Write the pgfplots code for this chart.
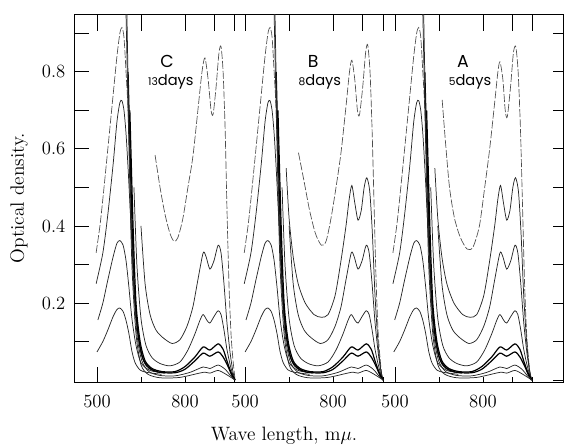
\documentclass[border=0pt]{standalone}
\usepackage{fontspec}
\usepackage{pgfplots}
\usepackage{pgfplotstable}
\pgfplotsset{compat=1.18}
\newfontfamily\lettering{Poppins}

% left-hand (dilute) curves, wavelength in m-mu within a panel
\pgfplotstableread{
x y
497 0.33
510 0.40
520 0.47
537 0.60
555 0.74
568 0.84
578 0.90
585 0.915
592 0.89
599 0.80
606 0.70
616 0.50
626 0.30
636 0.15
650 0.07
670 0.035
700 0.02
}\Lone
\pgfplotstableread{
x y
497 0.25
520 0.33
537 0.43
555 0.56
568 0.67
578 0.72
585 0.725
592 0.70
599 0.64
606 0.55
616 0.40
626 0.25
636 0.14
650 0.07
670 0.035
710 0.02
}\Ltwo
\pgfplotstableread{
x y
503 0.156
520 0.20
537 0.26
555 0.32
568 0.355
578 0.362
589 0.35
599 0.31
609 0.24
619 0.16
633 0.09
650 0.045
681 0.025
732 0.018
}\Lthree
\pgfplotstableread{
x y
500 0.073
520 0.10
537 0.13
555 0.165
568 0.183
578 0.187
589 0.178
599 0.155
609 0.12
619 0.075
630 0.045
647 0.026
670 0.02
720 0.015
}\Lfour
% right-hand (concentrated) curves
\pgfplotstableread{
x y
698 0.584
715 0.50
732 0.43
749 0.38
763 0.36
776 0.37
793 0.42
810 0.50
827 0.58
844 0.70
858 0.80
868 0.836
879 0.78
889 0.70
896 0.69
906 0.76
916 0.85
923 0.865
930 0.80
937 0.65
943 0.45
950 0.25
957 0.12
964 0.05
971 0.0
}\RtopC
\pgfplotstableread{
x y
682 0.59
700 0.52
720 0.44
740 0.38
760 0.35
776 0.36
793 0.42
810 0.50
827 0.59
844 0.71
856 0.80
864 0.83
874 0.78
883 0.70
890 0.688
901 0.76
911 0.85
918 0.87
926 0.80
933 0.65
940 0.45
947 0.25
954 0.12
961 0.05
968 0.0
}\RtopB
\pgfplotstableread{
x y
665 0.727
676 0.62
690 0.50
707 0.42
727 0.37
750 0.34
770 0.345
792 0.40
810 0.50
827 0.60
844 0.72
855 0.80
862 0.826
872 0.78
880 0.70
887 0.683
898 0.76
908 0.85
916 0.865
924 0.80
932 0.65
939 0.45
946 0.25
953 0.12
960 0.05
967 0.0
}\RtopA
\pgfplotstableread{
x y
640 0.55
650 0.42
664 0.32
681 0.25
705 0.20
735 0.17
760 0.163
783 0.17
807 0.22
827 0.31
844 0.40
855 0.47
864 0.505
874 0.46
885 0.415
896 0.44
906 0.50
915 0.525
925 0.49
934 0.38
943 0.22
953 0.10
962 0.03
970 0.0
}\Rtwo
\pgfplotstableread{
x y
650 0.40
664 0.25
681 0.17
701 0.13
725 0.11
756 0.095
783 0.105
807 0.14
827 0.19
844 0.26
862 0.33
872 0.32
885 0.288
899 0.31
913 0.35
923 0.33
933 0.25
943 0.15
954 0.07
964 0.02
971 0.0
}\Rthree
\pgfplotstableread{
x y
626 0.50
636 0.30
650 0.16
667 0.09
688 0.058
715 0.043
749 0.037
783 0.047
810 0.078
834 0.12
851 0.155
862 0.17
875 0.155
885 0.148
899 0.165
913 0.18
923 0.17
933 0.13
943 0.08
954 0.04
964 0.012
971 0.0
}\Rfour
\pgfplotstableread{
x y
612 0.70
623 0.40
633 0.20
647 0.10
664 0.05
688 0.03
722 0.022
766 0.022
800 0.035
834 0.06
862 0.086
885 0.078
913 0.094
930 0.08
943 0.05
957 0.02
971 0.0
}\Rfive
\pgfplotstableread{
x y
606 0.80
616 0.50
626 0.25
640 0.12
657 0.055
681 0.03
715 0.02
766 0.019
800 0.028
834 0.05
862 0.07
885 0.062
913 0.073
930 0.06
947 0.035
960 0.012
971 0.0
}\Rsix
\pgfplotstableread{
x y
602 0.95
612 0.55
623 0.28
636 0.12
653 0.05
677 0.022
715 0.012
766 0.011
817 0.02
862 0.034
885 0.03
913 0.039
937 0.028
957 0.01
971 0.0
}\Rseven
\pgfplotstableread{
x y
599 0.95
609 0.60
619 0.30
633 0.12
650 0.04
674 0.015
715 0.006
783 0.007
862 0.02
885 0.018
913 0.025
940 0.015
971 0.0
}\Reight

\pgfplotsset{
  common/.style={at={(0,0)}, anchor=south west, scale only axis,
    width=366.75pt, height=276pt,
    xmin=421.6, xmax=2089, ymin=-0.005, ymax=0.95,
    axis line style={black, line width=0.7pt}, tick align=inside,
    every tick/.style={black, line width=0.6pt}},
  crv/.style={black!85, line width=0.55pt, smooth, tension=0.45, no markers},
  faint/.style={black!70, line width=0.5pt, smooth, tension=0.45, no markers, dash pattern=on 6pt off 1.5pt},
  thick crv/.style={black, line width=0.9pt, smooth, tension=0.45, no markers},
}

\begin{document}
\begin{tikzpicture}
\useasboundingbox (-55.5pt,-46.5pt) rectangle (369.75pt,286.5pt);
% main axis with data, bottom and left ticks
\begin{axis}[common,
  xtick pos=left, ytick pos=left,
  xtick={500,1005,1516}, xticklabels={500,500,500},
  extra x ticks={650,800,900,970,1155,1305,1405,1475,1666,1816,1916,1986},
  extra x tick labels={,800,,,,800,,,,800,,},
  extra x tick style={major tick length=4pt},
  major tick length=11pt, minor tick length=11pt,
  ytick={0.2,0.4,0.6,0.8}, minor ytick={0.1,0.3,0.5,0.7,0.9},
  yticklabels={0.2,0.4,0.6,0.8},
  xticklabel style={font=\fontsize{14}{16}\selectfont, yshift=-6pt},
  yticklabel style={font=\fontsize{14}{16}\selectfont, xshift=-3pt},
  xlabel={Wave length, m$\mu$.},
  ylabel={Optical density.},
  every axis x label/.style={at={(axis description cs:0.4294,-0.147)}, anchor=center, font=\fontsize{14.5}{16}\selectfont},
  every axis y label/.style={at={(axis description cs:-0.1125,0.5)}, rotate=90, anchor=center, font=\fontsize{14.5}{16}\selectfont},
  clip=true,
]
% ---------- panel C (13 days), offset 0
\addplot[faint] table[x expr=\thisrowno{0}, y index=1] {\Lone};
\addplot[crv] table[x expr=\thisrowno{0}, y index=1] {\Ltwo};
\addplot[crv] table[x expr=\thisrowno{0}, y index=1] {\Lthree};
\addplot[crv] table[x expr=\thisrowno{0}, y index=1] {\Lfour};
\addplot[faint] table[x expr=\thisrowno{0}, y index=1] {\RtopC};
\addplot[crv] table[x expr=\thisrowno{0}, y index=1] {\Rthree};
\addplot[crv] table[x expr=\thisrowno{0}, y index=1] {\Rfour};
\addplot[thick crv] table[x expr=\thisrowno{0}, y index=1] {\Rfive};
\addplot[thick crv] table[x expr=\thisrowno{0}, y index=1] {\Rsix};
\addplot[crv] table[x expr=\thisrowno{0}, y index=1] {\Rseven};
\addplot[crv] table[x expr=\thisrowno{0}, y index=1] {\Reight};
% ---------- panel B (8 days), offset 505
\addplot[faint] table[x expr=\thisrowno{0}+505, y index=1] {\Lone};
\addplot[crv] table[x expr=\thisrowno{0}+505, y index=1] {\Ltwo};
\addplot[crv] table[x expr=\thisrowno{0}+505, y index=1] {\Lthree};
\addplot[crv] table[x expr=\thisrowno{0}+505, y index=1] {\Lfour};
\addplot[faint] table[x expr=\thisrowno{0}+505, y index=1] {\RtopB};
\addplot[crv] table[x expr=\thisrowno{0}+505, y index=1] {\Rtwo};
\addplot[crv] table[x expr=\thisrowno{0}+505, y index=1] {\Rthree};
\addplot[crv] table[x expr=\thisrowno{0}+505, y index=1] {\Rfour};
\addplot[thick crv] table[x expr=\thisrowno{0}+505, y index=1] {\Rfive};
\addplot[thick crv] table[x expr=\thisrowno{0}+505, y index=1] {\Rsix};
\addplot[crv] table[x expr=\thisrowno{0}+505, y index=1] {\Rseven};
\addplot[crv] table[x expr=\thisrowno{0}+505, y index=1] {\Reight};
% ---------- panel A (5 days), offset 1012
\addplot[faint] table[x expr=\thisrowno{0}+1012, y index=1] {\Lone};
\addplot[crv] table[x expr=\thisrowno{0}+1012, y index=1] {\Ltwo};
\addplot[crv] table[x expr=\thisrowno{0}+1012, y index=1] {\Lthree};
\addplot[crv] table[x expr=\thisrowno{0}+1012, y index=1] {\Lfour};
\addplot[faint] table[x expr=\thisrowno{0}+1012, y index=1] {\RtopA};
\addplot[crv] table[x expr=\thisrowno{0}+1012, y index=1] {\Rtwo};
\addplot[crv] table[x expr=\thisrowno{0}+1012, y index=1] {\Rthree};
\addplot[crv] table[x expr=\thisrowno{0}+1012, y index=1] {\Rfour};
\addplot[thick crv] table[x expr=\thisrowno{0}+1012, y index=1] {\Rfive};
\addplot[thick crv] table[x expr=\thisrowno{0}+1012, y index=1] {\Rsix};
\addplot[crv] table[x expr=\thisrowno{0}+1012, y index=1] {\Rseven};
\addplot[crv] table[x expr=\thisrowno{0}+1012, y index=1] {\Reight};
% panel captions
\node[font=\lettering\fontsize{13}{13}\selectfont] at (axis cs:739,0.826) {C};
\node[font=\lettering\fontsize{11}{11}\selectfont] at (axis cs:752,0.774) {{\fontsize{8}{8}\selectfont 13}days};
\node[font=\lettering\fontsize{13}{13}\selectfont] at (axis cs:1237,0.826) {B};
\node[font=\lettering\fontsize{11}{11}\selectfont] at (axis cs:1260,0.774) {{\fontsize{8}{8}\selectfont 8}days};
\node[font=\lettering\fontsize{13}{13}\selectfont] at (axis cs:1748,0.826) {A};
\node[font=\lettering\fontsize{11}{11}\selectfont] at (axis cs:1772,0.774) {{\fontsize{8}{8}\selectfont 5}days};
\end{axis}
% top ticks
\begin{axis}[common, axis line style={draw=none},
  xtick pos=right, ytick=\empty,
  xtick={500,650,800,900,970,1005,1155,1305,1405,1475,1516,1666,1816,1916,1986},
  xticklabels={}, major tick length=12.5pt]
\end{axis}
% right ticks
\begin{axis}[common, axis line style={draw=none},
  ytick pos=right, xtick=\empty,
  ytick={0,0.1,0.2,0.3,0.4,0.5,0.6,0.7,0.8,0.9},
  yticklabels={}, major tick length=7.5pt]
\end{axis}
\end{tikzpicture}
\end{document}
